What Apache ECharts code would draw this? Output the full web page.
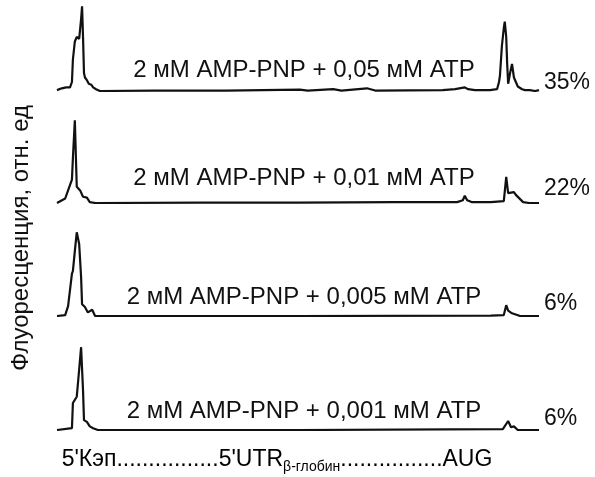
<!DOCTYPE html>
<html><head><meta charset="utf-8">
<script src="https://cdn.jsdelivr.net/npm/echarts@6/dist/echarts.min.js"></script>
<style>html,body{margin:0;padding:0;background:#fff}#c{width:595px;height:477px}</style>
</head><body><div id="c"></div>
<script>
// relative position along mRNA (0..100) and fluorescence (a.u., baseline 0)
const trace1 = [[0,1],[1.0,3],[1.9,4],[2.7,4],[3.1,10],[3.3,35],[3.7,55],[4.1,60],[4.6,58],[5.0,80],[5.2,94],[5.4,60],[5.6,20],[5.8,15],[6.2,12],[6.6,8],[7.1,7],[7.5,4],[8.1,2],[8.9,0],[20,0.5],[35,0.5],[50.4,1.5],[52,0.5],[57.3,2],[59,0.5],[64.3,3],[66,0.5],[80,1],[82.6,2],[84.6,4],[85.3,2],[86.7,1],[89.8,1],[91.3,2],[91.7,10],[91.9,17],[92.3,50],[92.7,70],[92.9,77],[93.2,60],[93.4,30],[93.6,8],[94.0,20],[94.4,30],[94.8,15],[95.0,13],[95.6,5],[96.5,2],[97.1,1],[98.1,1],[99.2,0],[100,1]];
const trace2 = [[0,0],[1.7,5],[2.3,14],[3.1,26],[3.3,50],[3.7,92],[4.1,18],[4.8,14],[5.4,7],[6.2,6],[6.8,1],[8,0],[30,0.5],[50,0.5],[70,1],[83,1],[84.2,3],[84.6,8],[85.1,3],[86,1],[90,1],[92.7,2],[93.2,29],[93.6,11],[94.0,9],[94.8,12],[95.2,9],[95.6,7],[96.7,1],[98,0],[100,0]];
const trace3 = [[0,0],[1.7,1],[2.3,11],[3.1,47],[3.3,50],[3.7,72],[4.1,93],[4.6,80],[5.0,43],[5.2,13],[5.8,10],[6.4,4],[7.3,7],[7.9,0],[50,0],[90,0.5],[92.7,1],[93.2,12],[93.6,6],[94.4,3],[95.0,2],[96.1,0],[100,0]];
const trace4 = [[0,0],[3.1,2],[3.3,30],[4.1,37],[4.4,55],[5.0,92],[5.4,44],[5.6,11],[6.2,9],[6.8,4],[7.5,2],[8.5,0],[50,0],[92.5,1],[93.6,10],[94.2,3],[94.8,4],[95.6,0],[100,0]];
const conditions = ['2 мМ AMP-PNP + 0,05 мМ ATP','2 мМ AMP-PNP + 0,01 мМ ATP','2 мМ AMP-PNP + 0,005 мМ ATP','2 мМ AMP-PNP + 0,001 мМ ATP'];
const percents = ['35%','22%','6%','6%'];
const yLabel = 'Флуоресценция, отн. ед';

const traces = [trace1, trace2, trace3, trace4];
const FONT = '"Liberation Sans", Arial, Helvetica, sans-serif';
const baselines = [91, 203, 316, 430];
const labelY = [70, 178, 297, 411];
const pctOffset = [-7, -14, -12, -11];
const grids = [], xAxes = [], yAxes = [], series = [], graphics = [];
traces.forEach((t, i) => {
  grids.push({left: 57, width: 482, top: baselines[i] - 90, height: 90});
  xAxes.push({type: 'value', gridIndex: i, min: 0, max: 100, show: false});
  yAxes.push({type: 'value', gridIndex: i, min: 0, max: 100, show: false});
  series.push({
    type: 'line', xAxisIndex: i, yAxisIndex: i, data: t, showSymbol: false, symbol: 'none',
    lineStyle: {color: '#111', width: 2.2}, animation: false, silent: true,
    endLabel: {show: true, formatter: () => percents[i], fontSize: 23, fontFamily: FONT, color: '#111', distance: 5, offset: [0, pctOffset[i]]}
  });
  graphics.push({type: 'text', x: 304, y: labelY[i],
    style: {text: conditions[i], fontSize: 24, fontFamily: FONT, fill: '#111', align: 'center', verticalAlign: 'middle'}});
});
graphics.push(
  {type: 'text', x: 21, y: 238, rotation: Math.PI / 2,
    style: {text: yLabel, fontSize: 24, fontFamily: FONT, fill: '#111', align: 'center', verticalAlign: 'middle'}},
  {type: 'text', x: 277, y: 460,
    style: {text: '{a|5\'Кэп................5\'UTR}{s|β-глобин}{a|................AUG}', align: 'center', verticalAlign: 'middle',
      rich: {a: {fontSize: 23, fontFamily: FONT, color: '#111'}, s: {fontSize: 14, fontFamily: FONT, color: '#111', padding: [14, 0, 0, 0]}}}}
);
const chart = echarts.init(document.getElementById('c'), null, {renderer: 'canvas'});
chart.setOption({
  animation: false,
  grid: grids, xAxis: xAxes, yAxis: yAxes, series: series,
  graphic: graphics
});
</script></body></html>
